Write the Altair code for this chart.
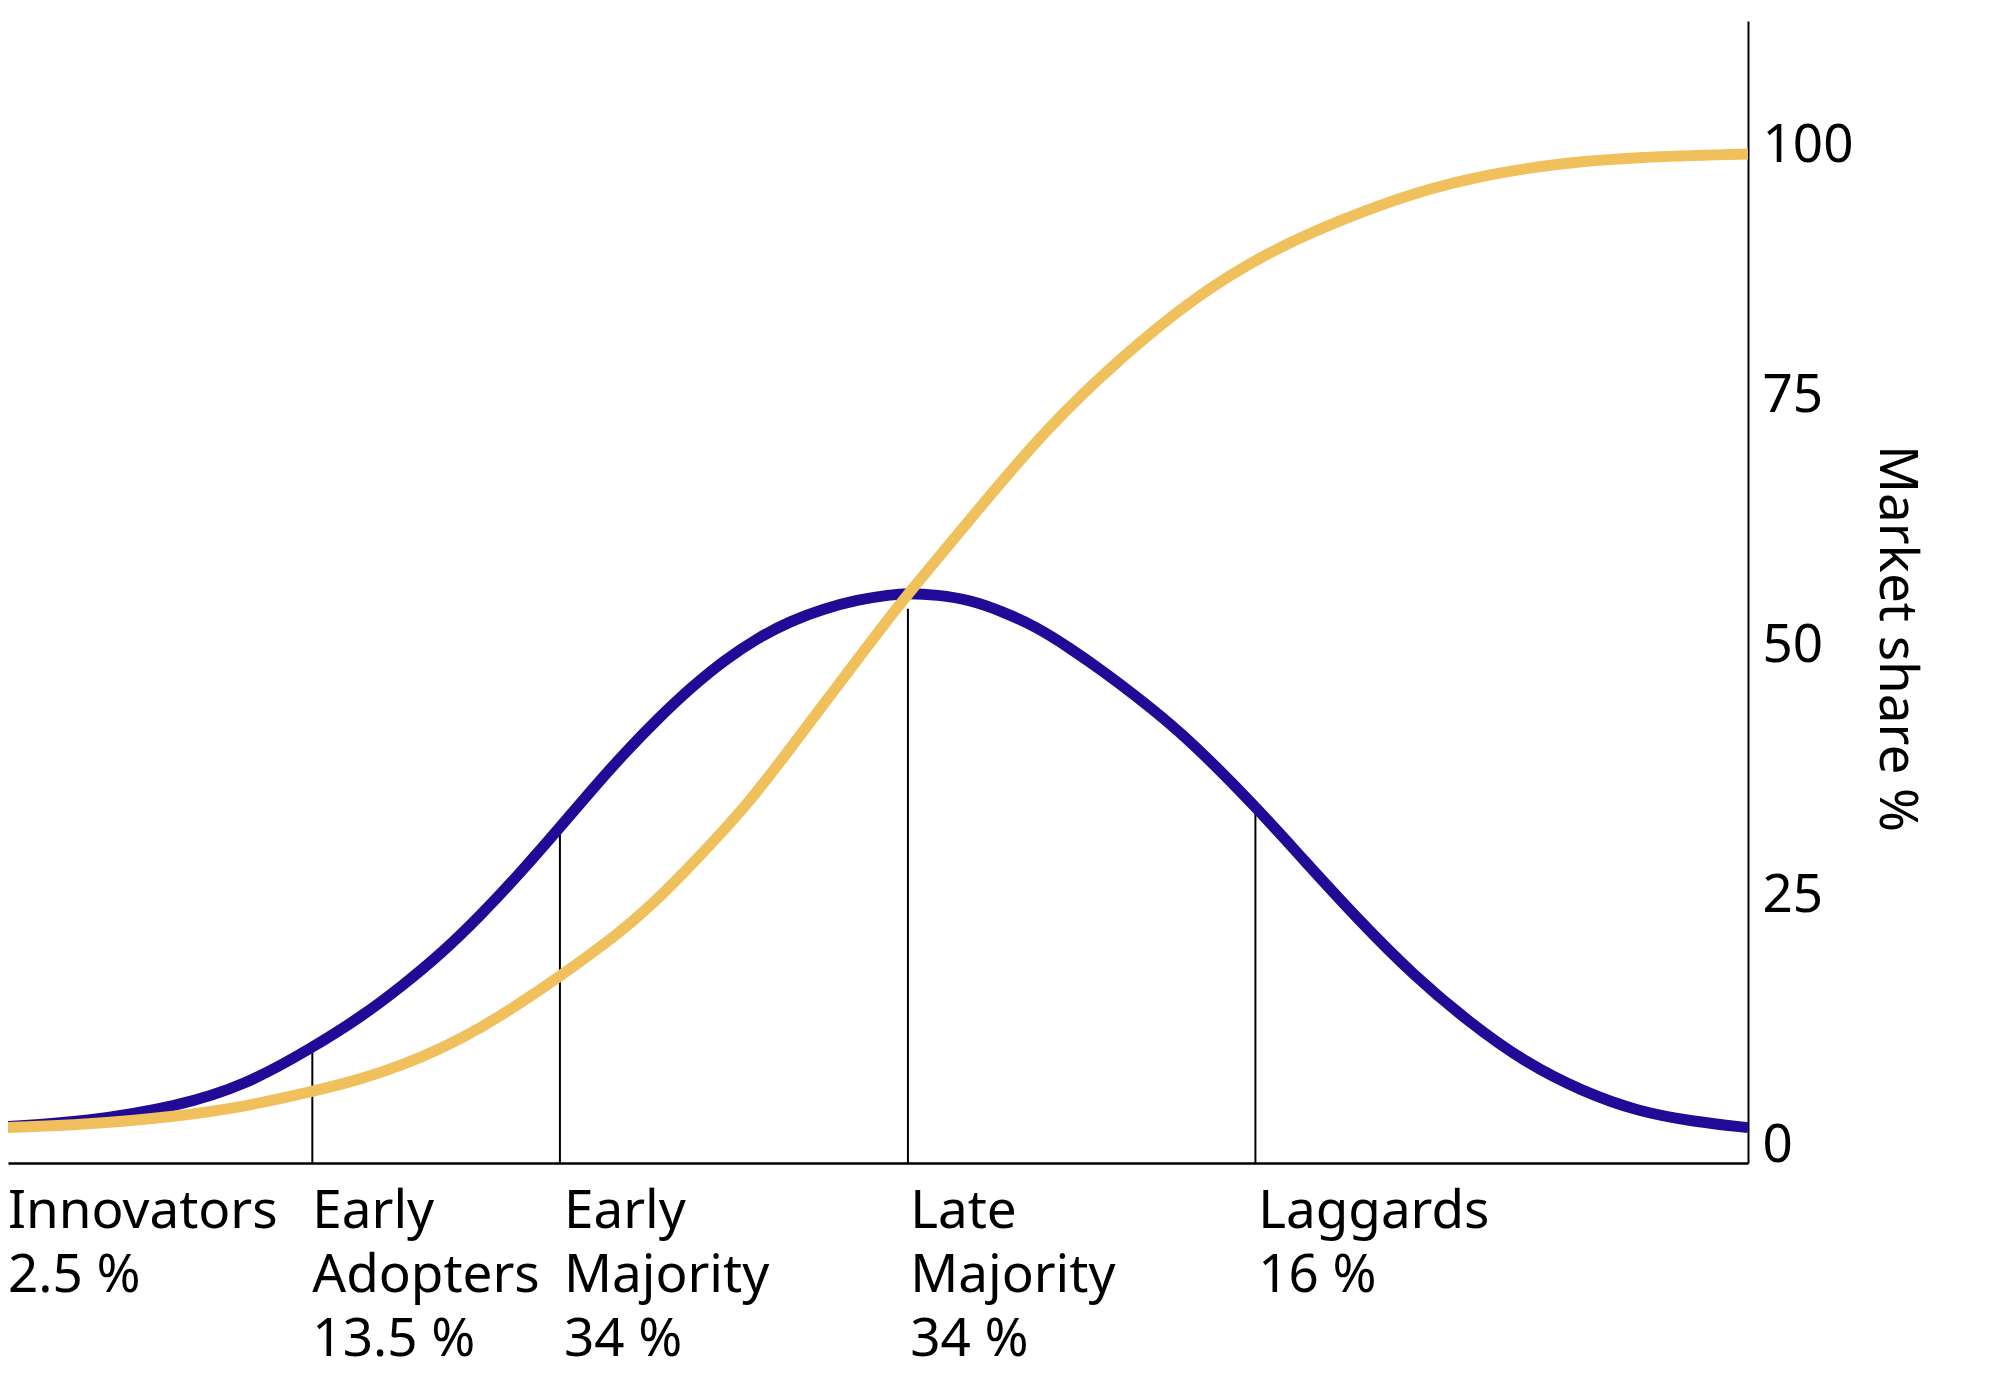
import altair as alt
import pandas as pd

# Horizontal position: percent of the horizontal extent (0 = left edge, 100 = right axis)
blue_x = [0, 4.5, 9.7, 13.6, 17.5, 20.4, 22.6, 24.9, 27.2, 29.4, 31.7, 33.6, 35.5, 37.4,
          39.3, 41.2, 43.1, 45.0, 46.9, 48.8, 50.7, 51.7, 53.4, 55.3, 57.2, 59.1, 61.0,
          62.9, 64.8, 66.8, 68.7, 71.7, 74.4, 77.6, 80.8, 84.0, 87.2, 90.5, 93.7, 96.9, 100]
blue_y = [1.9, 2.4, 3.9, 6.0, 9.8, 13.0, 15.9, 19.2, 23.1, 27.2, 31.8, 35.7, 39.4, 42.8,
          45.9, 48.6, 50.8, 52.5, 53.7, 54.6, 55.1, 55.25, 55.1, 54.6, 53.4, 51.9, 49.8,
          47.5, 45.0, 42.2, 39.2, 33.9, 28.7, 22.6, 17.0, 12.3, 8.3, 5.4, 3.4, 2.4, 1.8]

yellow_x = [0, 4.5, 9.7, 13.6, 17.5, 20.4, 22.6, 24.9, 27.2, 29.4, 31.7, 35.1, 37.0, 38.9,
            40.8, 42.7, 44.6, 46.9, 50.7, 52.6, 55.5, 59.7, 64.0, 68.2, 72.4, 76.7, 80.9,
            85.1, 89.4, 93.6, 100]
yellow_y = [1.8, 2.1, 2.9, 3.9, 5.4, 6.7, 8.0, 9.7, 11.8, 14.2, 16.9, 21.2, 24.1, 27.4,
            30.9, 34.6, 38.9, 44.2, 53.0, 57.0, 63.1, 71.8, 78.9, 84.9, 89.4, 92.7, 95.4,
            97.2, 98.3, 98.9, 99.2]

boundary_x = [17.49, 31.72, 51.72, 71.69]
boundary_top = [9.7, 32.1, 53.7, 34.1]

label_x = [0, 17.49, 31.95, 51.85, 71.85]
label_text = ["Innovators\n2.5 %", "Early\nAdopters\n13.5 %", "Early\nMajority\n34 %",
              "Late\nMajority\n34 %", "Laggards\n16 %"]

y_ticks = [0, 25, 50, 75, 100]
Y_MIN, Y_MAX = -1.74, 112.5
X_MIN, X_MAX = 0, 100

BLUE = "#200A96"
YELLOW = "#F0C05C"
FONT = "Noto Sans"
FS = 53

blue_df = pd.DataFrame({"x": blue_x, "y": blue_y})
yellow_df = pd.DataFrame({"x": yellow_x, "y": yellow_y})
rule_df = pd.DataFrame({"x": boundary_x, "y": boundary_top})
label_df = pd.DataFrame({"x": label_x, "label": label_text})

xscale = alt.Scale(domain=[X_MIN, X_MAX], nice=False, zero=False)
yscale = alt.Scale(domain=[Y_MIN, Y_MAX], nice=False, zero=False)

x_axis = alt.Axis(labels=False, ticks=False, grid=False, title=None,
                  domainColor="black", domainWidth=2.5)
y_axis = alt.Axis(orient="right", values=y_ticks, grid=False, ticks=False, tickSize=0,
                  domainColor="black", domainWidth=2,
                  labelFont=FONT, labelFontSize=FS, labelColor="black",
                  labelPadding=14, labelAlign="left",
                  title="Market share %", titleFont=FONT, titleFontSize=FS,
                  titleFontWeight="normal", titleColor="black",
                  titleAngle=90, titleAlign="center", titleBaseline="alphabetic",
                  titleX=131, titleY=617)

X = alt.X("x:Q", scale=xscale, axis=x_axis)
Y = alt.Y("y:Q", scale=yscale, axis=y_axis)

rules = alt.Chart(rule_df).mark_rule(color="black", strokeWidth=2).encode(
    x=X, y=Y, y2=alt.datum(Y_MIN),
)

blue = alt.Chart(blue_df).mark_line(color=BLUE, strokeWidth=11, interpolate="basis").encode(
    x=X, y=Y,
)

yellow = alt.Chart(yellow_df).mark_line(color=YELLOW, strokeWidth=11, interpolate="basis").encode(
    x=X, y=Y,
)

labels = alt.Chart(label_df).mark_text(
    align="left", baseline="top", dy=23, fontSize=FS, font=FONT,
    lineHeight=64, lineBreak="\n", color="black"
).encode(
    x=X,
    y=alt.YDatum(Y_MIN, scale=yscale, axis=y_axis),
    text="label:N",
)

chart = alt.layer(rules, blue, yellow, labels).properties(
    width=1740,
    height=1142,
    padding={"left": 0, "top": 13, "right": 200, "bottom": 215},
    autosize=alt.AutoSizeParams(type="none"),
).configure_view(stroke=None)

chart.save("out.html", embed_options={"renderer": "svg", "actions": False})
